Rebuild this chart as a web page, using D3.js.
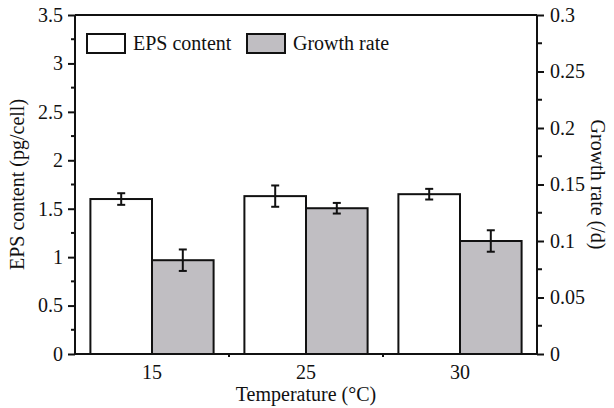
<!DOCTYPE html>
<html>
<head>
<meta charset="utf-8">
<script src="https://cdn.jsdelivr.net/npm/d3@7"></script>
<style>
body { margin: 0; background: #fff; }
text { font-family: "Liberation Serif", "Times New Roman", Tinos, serif; fill: #111; }
</style>
</head>
<body>
<svg id="chart"></svg>
<script>
var width = 614, height = 408;
var margin = {left: 75, right: 77, top: 15, bottom: 54};
var fontSize = 20;

var temps = ["15", "25", "30"];
var epsValues = [1.6, 1.63, 1.65];
var epsErrors = [0.06, 0.11, 0.055];
var growthValues = [0.083, 0.129, 0.1];
var growthErrors = [0.0095, 0.0047, 0.0095];
var leftTicks = [0, 0.5, 1, 1.5, 2, 2.5, 3, 3.5];
var rightTicks = [0, 0.05, 0.1, 0.15, 0.2, 0.25, 0.3];

var gray = "#c0bec2";
var lw = 2;

var svg = d3.select("#chart").attr("width", width).attr("height", height);

var x0 = margin.left, x1 = width - margin.right;
var yTop = margin.top, yBot = height - margin.bottom;

var x = d3.scaleBand().domain(temps).range([x0, x1])
	.paddingInner(0.2).paddingOuter(0.1);
var xSub = d3.scaleBand().domain(["eps", "growth"]).range([0, x.bandwidth()]);
var yL = d3.scaleLinear().domain([0, 3.5]).range([yBot, yTop]);
var yR = d3.scaleLinear().domain([0, 0.3]).range([yBot, yTop]);

// bars
function drawBars(vals, errs, key, y, fill) {
	var g = svg.append("g");
	g.selectAll("rect").data(vals).enter().append("rect")
	.attr("x", function(d, i) { return x(temps[i]) + xSub(key); })
	.attr("y", function(d) { return y(d); })
	.attr("width", xSub.bandwidth())
	.attr("height", function(d) { return yBot - y(d); })
	.attr("fill", fill).attr("stroke", "#111").attr("stroke-width", lw);

	var eb = g.selectAll("g.err").data(vals).enter().append("g")
	.attr("transform", function(d, i) {
		return "translate(" + (x(temps[i]) + xSub(key) + xSub.bandwidth() / 2) + ",0)";
	});
	eb.append("line")
	.attr("y1", function(d, i) { return y(d + errs[i]); })
	.attr("y2", function(d, i) { return y(d - errs[i]); });
	eb.append("line").attr("x1", -4).attr("x2", 4)
	.attr("y1", function(d, i) { return y(d + errs[i]); })
	.attr("y2", function(d, i) { return y(d + errs[i]); });
	eb.append("line").attr("x1", -4).attr("x2", 4)
	.attr("y1", function(d, i) { return y(d - errs[i]); })
	.attr("y2", function(d, i) { return y(d - errs[i]); });
	eb.selectAll("line").attr("stroke", "#111").attr("stroke-width", lw);
}
drawBars(epsValues, epsErrors, "eps", yL, "#fff");
drawBars(growthValues, growthErrors, "growth", yR, gray);

// frame
svg.append("line").attr("x1", x0).attr("x2", x1).attr("y1", yTop).attr("y2", yTop)
	.attr("stroke", "#111").attr("stroke-width", lw);

// left axis
var gL = svg.append("g").attr("transform", "translate(" + x0 + ",0)")
	.call(d3.axisLeft(yL).tickValues(leftTicks).tickSize(7).tickPadding(5)
		.tickFormat(d3.format("")));
var minorL = d3.range(0.25, 3.5, 0.5);
gL.selectAll("line.minor").data(minorL).enter().append("line")
	.attr("x1", -4).attr("x2", 0)
	.attr("y1", function(d) { return yL(d); }).attr("y2", function(d) { return yL(d); });

// right axis
var gR = svg.append("g").attr("transform", "translate(" + x1 + ",0)")
	.call(d3.axisRight(yR).tickValues(rightTicks).tickSize(7).tickPadding(6)
		.tickFormat(d3.format("")));
var minorR = d3.range(0.025, 0.3, 0.05);
gR.selectAll("line.minor").data(minorR).enter().append("line")
	.attr("x1", 0).attr("x2", 5)
	.attr("y1", function(d) { return yR(d); }).attr("y2", function(d) { return yR(d); });

// bottom axis
var gB = svg.append("g").attr("transform", "translate(0," + yBot + ")")
	.call(d3.axisBottom(x).tickSize(0).tickPadding(11));
gB.selectAll("line.minor").data(temps.slice(1)).enter().append("line")
	.attr("x1", function(d) { return x(d) - x.step() * 0.1; })
	.attr("x2", function(d) { return x(d) - x.step() * 0.1; })
	.attr("y1", 0).attr("y2", 3);

[gL, gR, gB].forEach(function(g) {
	g.select(".domain").attr("stroke", "#111").attr("stroke-width", lw);
	g.selectAll("line").attr("stroke", "#111").attr("stroke-width", lw);
	g.selectAll("text").attr("font-size", fontSize)
		.attr("font-family", null).attr("fill", "#111");
});
gL.select(".domain").attr("d", "M0," + yBot + "V" + yTop);
gR.select(".domain").attr("d", "M0," + yBot + "V" + yTop);
gB.select(".domain").attr("d", "M" + x0 + ",0H" + x1);

// titles
svg.append("text").attr("font-size", fontSize).attr("text-anchor", "middle")
	.attr("x", (x0 + x1) / 2).attr("y", 401).text("Temperature (°C)");
svg.append("text").attr("font-size", fontSize).attr("text-anchor", "middle")
	.attr("transform", "translate(24," + ((yTop + yBot) / 2) + ") rotate(-90)")
	.text("EPS content (pg/cell)");
svg.append("text").attr("font-size", fontSize).attr("text-anchor", "middle")
	.attr("transform", "translate(591," + ((yTop + yBot) / 2) + ") rotate(90)")
	.text("Growth rate (/d)");

// legend
var legend = [{label: "EPS content", fill: "#fff", x: 87}, {label: "Growth rate", fill: gray, x: 247}];
var lg = svg.selectAll("g.legend").data(legend).enter().append("g")
	.attr("transform", function(d) { return "translate(" + d.x + ",34)"; });
lg.append("rect").attr("width", 38).attr("height", 19)
	.attr("fill", function(d) { return d.fill; })
	.attr("stroke", "#111").attr("stroke-width", lw);
lg.append("text").attr("x", 46).attr("y", 16).attr("font-size", fontSize)
	.text(function(d) { return d.label; });
</script>
</body>
</html>
